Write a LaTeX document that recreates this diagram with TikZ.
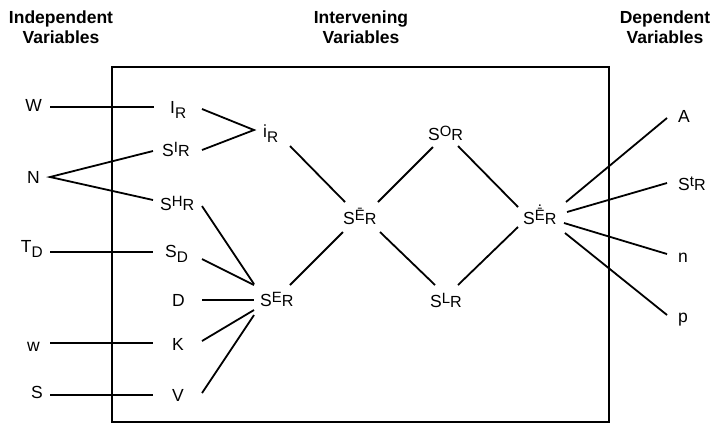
\documentclass[tikz,border=0pt]{standalone}
\usepackage{fontspec}
\setmainfont{Liberation Sans}
\usetikzlibrary{calc}
\newcommand{\Sup}[1]{\raisebox{0.2em}{\scalebox{0.85}{#1}}}
\newcommand{\Sub}[1]{\raisebox{-0.3em}{\scalebox{0.88}{#1}}}
\newcommand{\Rr}{\raisebox{-0.05em}{\scalebox{0.92}{R}}}
\newcommand{\dotbarE}{\makebox[0pt][l]{\hspace{0.2em}\raisebox{0.95em}{.}}\={E}}
\begin{document}
\begin{tikzpicture}[x=1bp,y=-1bp,
  lbl/.style={inner sep=0pt,font=\fontsize{17.5bp}{20bp}\selectfont},
  ttl/.style={inner sep=0pt,align=center,anchor=north,font=\fontsize{17.5bp}{20bp}\selectfont\bfseries},
  conn/.style={line width=1.8bp},
  frame/.style={line width=1.8bp}]
\useasboundingbox (0,0) rectangle (714,425);
% titles
\node[ttl] (t1) at (61,11) {Independent\\Variables};
\node[ttl] (t2) at (361,11) {Intervening\\Variables};
\node[ttl] (t3) at (665,11) {Dependent\\Variables};
% frame
\draw[frame] (112,67) rectangle (609,422);
% independent
\node[lbl,anchor=base east] (W) at (42,111) {W};
\node[lbl,anchor=base east] (N) at (40,183) {N};
\node[lbl,anchor=base east] (TD) at (43,252) {T\Sub{D}};
\node[lbl,anchor=base east] (w) at (40,351) {w};
\node[lbl,anchor=base east] (S) at (43,398) {S};
% first column
\node[lbl,anchor=base west] (IR) at (170,113) {I\Sub{R}};
\node[lbl,anchor=base west] (SIR) at (162,156) {S\Sup{I}\Rr};
\node[lbl,anchor=base west] (SHR) at (160,210) {S\Sup{H}\Rr};
\node[lbl,anchor=base west] (SD) at (165,257) {S\Sub{D}};
\node[lbl,anchor=base west] (D) at (172,306) {D};
\node[lbl,anchor=base west] (K) at (172,350) {K};
\node[lbl,anchor=base west] (V) at (172,401) {V};
% intervening
\node[lbl,anchor=base west] (iR) at (263,137) {i\Sub{R}};
\node[lbl,anchor=base west] (SER) at (260,306) {S\Sup{E}\Rr};
\node[lbl,anchor=base west] (SEbar) at (343,224) {S\Sup{\={E}}\Rr};
\node[lbl,anchor=base west] (SOR) at (428,140) {S\Sup{O}\Rr};
\node[lbl,anchor=base west] (SLR) at (430,307) {S\Sup{L}\Rr};
\node[lbl,anchor=base west] (SEdot) at (523,224) {S\Sup{\dotbarE}\Rr};
% dependent
\node[lbl,anchor=base west] (A) at (678,122) {A};
\node[lbl,anchor=base west] (StR) at (678,190) {S\Sup{t}\Rr};
\node[lbl,anchor=base west] (n) at (678,262) {n};
\node[lbl,anchor=base west] (p) at (678,322) {p};
% connectors
\draw[conn] ($(W.base east)+(8,-4)$) -- ($(IR.base west)+(-16,-6)$);
\draw[conn] ($(SIR.base west)+(-9,-5)$) -- ($(N.base east)+(10,-6)$) -- ($(SHR.base west)+(-7,-10)$);
\draw[conn] ($(TD.base east)+(7,0)$) -- ($(SD.base west)+(-12,-5)$);
\draw[conn] ($(w.base east)+(10,-8)$) -- ($(K.base west)+(-19,-7)$);
\draw[conn] ($(S.base east)+(7,-3)$) -- ($(V.base west)+(-19,-6)$);
\draw[conn] ($(IR.base west)+(32,-4)$) -- ($(iR.base west)+(-9,-7)$) -- ($(SIR.base west)+(40,-6)$);
\draw[conn] ($(iR.base west)+(27,9)$) -- ($(SEbar.base west)+(2,-22)$);
\draw[conn] ($(SHR.base west)+(42,-4)$) -- ($(SER.base west)+(-6,-22)$);
\draw[conn] ($(SD.base west)+(37,2)$) -- ($(SER.base west)+(-6,-21)$);
\draw[conn] ($(D.base west)+(30,-6)$) -- ($(SER.base west)+(-6,-6)$);
\draw[conn] ($(K.base west)+(30,-9)$) -- ($(SER.base west)+(-6,4)$);
\draw[conn] ($(V.base west)+(30,-8)$) -- ($(SER.base west)+(-6,9)$);
\draw[conn] ($(SER.base west)+(30,-21)$) -- ($(SEbar.base west)+(0,8)$);
\draw[conn] ($(SEbar.base west)+(35,-22)$) -- ($(SOR.base west)+(5,7)$);
\draw[conn] ($(SEbar.base west)+(37,8)$) -- ($(SLR.base west)+(5,-22)$);
\draw[conn] ($(SOR.base west)+(30,6)$) -- ($(SEdot.base west)+(-5,-17)$);
\draw[conn] ($(SLR.base west)+(28,-22)$) -- ($(SEdot.base west)+(-5,3)$);
\draw[conn] ($(SEdot.base west)+(43,-22)$) -- ($(A.base west)+(-11,-4)$);
\draw[conn] ($(SEdot.base west)+(44,-12)$) -- ($(StR.base west)+(-11,-7)$);
\draw[conn] ($(SEdot.base west)+(41,-1)$) -- ($(n.base west)+(-11,-8)$);
\draw[conn] ($(SEdot.base west)+(42,9)$) -- ($(p.base west)+(-11,-7)$);
\end{tikzpicture}
\end{document}
